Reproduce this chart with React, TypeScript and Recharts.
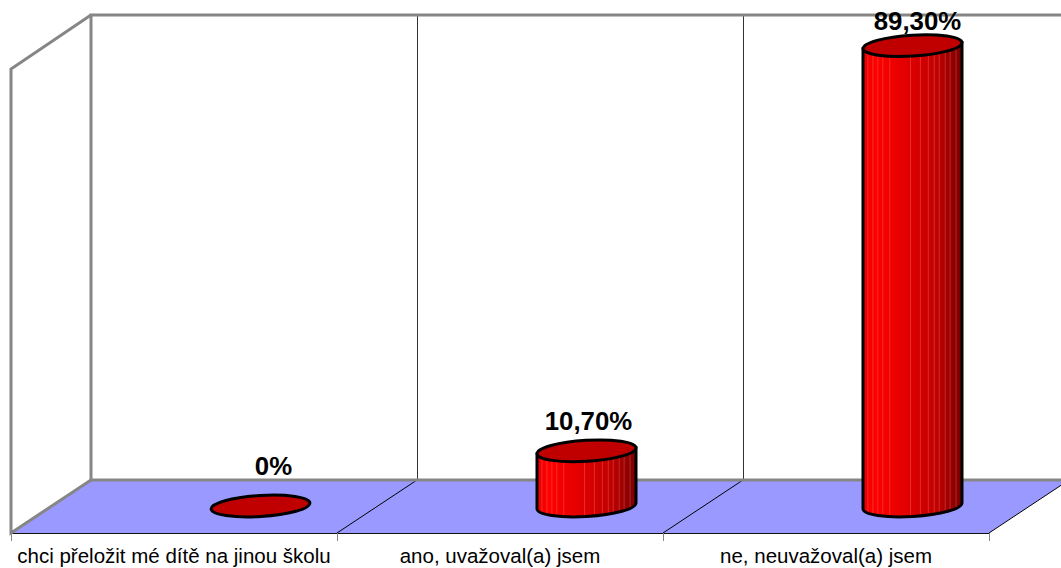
import { Bar, BarChart, XAxis, YAxis, LabelList } from 'recharts';

const categories = ['chci přeložit mé dítě na jinou školu', 'ano, uvažoval(a) jsem', 'ne, neuvažoval(a) jsem'];
const shares = [0, 10.7, 89.3];
const shareLabels = ['0%', '10,70%', '89,30%'];

const chartData = categories.map((name, i) => ({ name, share: shares[i], label: shareLabels[i] }));

// plot area = front plane of the 3D box
const W = 1061;
const H = 568;
const LEFT = 11;
const TOP = 69;
const RIGHT = 989;
const BOTTOM = 533;
const DEPTH_X = 80;
const DEPTH_Y = 53;
const BAR_SHIFT_X = 86;
const BAR_SHIFT_Y = 27;
const CAT_W = (RIGHT - LEFT) / categories.length;

const GREY = '#868686';
const FONT = '"Liberation Sans", Arial, sans-serif';

// rough positions of the pale streaks on the cylinder body
const streaks = [0.05, 0.1, 0.15, 0.2, 0.27, 0.48, 0.58, 0.66, 0.72, 0.77, 0.83, 0.88, 0.94];

function Box3D() {
  const backL = LEFT + DEPTH_X;
  const backB = BOTTOM - DEPTH_Y;
  const backT = TOP - DEPTH_Y - 1;
  const dividers = [1, 2, 3].map((i) => LEFT + CAT_W * i);
  return (
    <g>
      <defs>
        <linearGradient id="cyl" x1="0" y1="0" x2="1" y2="0">
          <stop offset="0" stopColor="#e80000" />
          <stop offset="0.12" stopColor="#ff0000" />
          <stop offset="0.45" stopColor="#e00000" />
          <stop offset="0.75" stopColor="#c00000" />
          <stop offset="1" stopColor="#780000" />
        </linearGradient>
      </defs>
      <polygon
        points={`${LEFT},${BOTTOM} ${backL},${backB} ${RIGHT + DEPTH_X},${backB} ${RIGHT},${BOTTOM}`}
        fill="#9999ff"
      />
      <line x1={LEFT} y1={BOTTOM + 0.5} x2={RIGHT} y2={BOTTOM + 0.5} stroke="#111" strokeWidth={1} />
      {dividers.map((x) => (
        <g key={x}>
          <line x1={x} y1={BOTTOM} x2={x + DEPTH_X} y2={backB} stroke="#000" strokeWidth={1} />
          {x < RIGHT && (
            <line x1={x + DEPTH_X + 0.5} y1={backT} x2={x + DEPTH_X + 0.5} y2={backB} stroke="#333" strokeWidth={1} />
          )}
        </g>
      ))}
      {[LEFT, ...dividers].map((x) => (
        <line key={x} x1={x + 0.5} y1={BOTTOM} x2={x + 0.5} y2={BOTTOM + 8} stroke={GREY} strokeWidth={1} />
      ))}
      <polyline
        points={`${W},${backT} ${backL},${backT} ${backL},${backB} ${W},${backB}`}
        fill="none"
        stroke={GREY}
        strokeWidth={3}
      />
      <polyline
        points={`${backL},${backT} ${LEFT},${TOP} ${LEFT},${BOTTOM} ${backL},${backB}`}
        fill="none"
        stroke={GREY}
        strokeWidth={3}
      />
    </g>
  );
}

function Cylinder(props: any) {
  const { x, y, width, height, index } = props;
  const rx = width / 2;
  const ry = 10.5;
  const tilt = -3.5;
  const cx = x + rx + BAR_SHIFT_X;
  const topY = y - BAR_SHIFT_Y;
  const botY = topY + height;
  const lift = rx * Math.sin((-tilt * Math.PI) / 180);
  const left = cx - rx;
  const right = cx + rx;
  const body = `M${left},${topY + lift} L${left},${botY + lift} A${rx},${ry} ${tilt} 0 0 ${right},${botY - lift} L${right},${topY - lift} Z`;
  const clipId = `cyl-clip-${index}`;
  return (
    <g>
      {height > 0 && (
        <g>
          <clipPath id={clipId}>
            <path d={body} />
          </clipPath>
          <path d={body} fill="url(#cyl)" />
          <g clipPath={`url(#${clipId})`}>
            {streaks.map((s) => (
              <line
                key={s}
                x1={left + s * width}
                x2={left + s * width}
                y1={topY - 20}
                y2={botY + 20}
                stroke="#ff9090"
                strokeOpacity={0.3}
                strokeWidth={1}
              />
            ))}
          </g>
          <path d={body} fill="none" stroke="#000" strokeWidth={3} />
        </g>
      )}
      <ellipse
        cx={cx}
        cy={topY}
        rx={rx}
        ry={ry}
        transform={`rotate(${tilt} ${cx} ${topY})`}
        fill="#c00000"
        stroke="#000"
        strokeWidth={3}
      />
    </g>
  );
}

// labels in the source sit a bit off the bar, by a different amount for each
const labelNudgeX = [13, 2, 5];
const labelNudgeY = [31, 21, 16];

function ShareLabel(props: any) {
  const { x, y, width, index } = props;
  return (
    <text
      x={x + width / 2 + BAR_SHIFT_X + labelNudgeX[index]}
      y={y - BAR_SHIFT_Y - labelNudgeY[index]}
      textAnchor="middle"
      fontFamily={FONT}
      fontWeight="bold"
      fontSize={25.8}
      fill="#000"
    >
      {shareLabels[index]}
    </text>
  );
}

export default function App() {
  return (
    <div style={{ position: 'absolute', left: 0, top: 0, width: W, height: H }}>
      <BarChart
        width={W}
        height={H}
        data={chartData}
        margin={{ top: TOP, left: LEFT, right: W - RIGHT, bottom: 0 }}
        barSize={99}
      >
        <Box3D />
        <XAxis
          dataKey="name"
          axisLine={false}
          tickLine={false}
          interval={0}
          height={H - BOTTOM}
          tick={{ fontFamily: FONT, fontSize: 20.5, fill: '#000' }}
          tickMargin={9}
        />
        <YAxis hide domain={[0, 90]} />
        <Bar dataKey="share" isAnimationActive={false} shape={<Cylinder />}>
          <LabelList dataKey="label" content={<ShareLabel />} />
        </Bar>
      </BarChart>
    </div>
  );
}
